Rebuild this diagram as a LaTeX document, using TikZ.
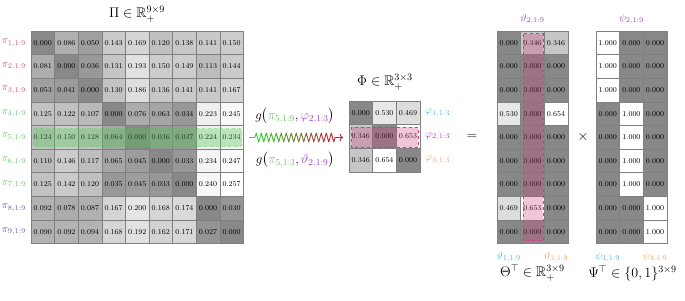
\RequirePackage{fix-cm}
\documentclass[tikz,border=0pt]{standalone}
\usepackage{amsmath,amssymb}
\usepackage{xcolor}
\usepackage{tikz}
\usetikzlibrary{arrows.meta,calc}
\definecolor{matred}{HTML}{E0506A}
\definecolor{matgreen}{HTML}{66C266}
\definecolor{matblue}{HTML}{5060C8}
\definecolor{rowcyan}{HTML}{40B8E8}
\definecolor{rowpurple}{HTML}{A040D0}
\definecolor{roworange}{HTML}{F0A060}
\definecolor{hlgreen}{HTML}{50C850}
\definecolor{hlpink}{HTML}{D04080}
\definecolor{zzgreen}{HTML}{22DD22}
\definecolor{zzred}{HTML}{C82040}

\tikzset{
  cell/.style={draw=black!50,line width=0.4pt,minimum size=23.6pt,inner sep=0pt,
    font=\fontsize{7.5}{8}\selectfont},
  lab/.style={inner sep=0pt,font=\fontsize{10.5}{12}\selectfont},
  title/.style={inner sep=0pt,font=\fontsize{14}{16}\selectfont},
  glab/.style={inner sep=0pt,font=\fontsize{13}{15}\selectfont},
  zigline/.style={line width=0.9pt,line join=round}
}

% name, left, top, largest value, rows
\newcommand{\cellgrid}[5]{%
  \foreach \row [count=\r] in {#5} {
    \foreach \v [count=\c] in \row {
      \pgfmathsetmacro\shade{46.7*(1-\v/#4)}
      \node[cell,fill=black!\shade] (#1-\r-\c) at ({#2+23.6*(\c-0.5)},{#3+23.6*(\r-0.5)}) {\v};
    }
  }%
}

\begin{document}
\begin{tikzpicture}[x=1pt,y=-1pt]
  \useasboundingbox (0,0) rectangle (685,300);

  % Pi
  \cellgrid{pi}{31}{31}{0.257}{
    {0.000,0.086,0.050,0.143,0.169,0.120,0.138,0.141,0.150},
    {0.081,0.000,0.036,0.131,0.193,0.150,0.149,0.113,0.144},
    {0.053,0.041,0.000,0.130,0.186,0.136,0.141,0.141,0.167},
    {0.125,0.122,0.107,0.000,0.076,0.063,0.034,0.223,0.245},
    {0.124,0.150,0.128,0.064,0.000,0.036,0.037,0.224,0.234},
    {0.110,0.146,0.117,0.065,0.045,0.000,0.033,0.234,0.247},
    {0.125,0.142,0.120,0.035,0.045,0.033,0.000,0.240,0.257},
    {0.092,0.078,0.087,0.167,0.200,0.168,0.174,0.000,0.030},
    {0.090,0.092,0.094,0.168,0.192,0.162,0.171,0.027,0.000}}
  \node[title] (pititle) at (137,14) {$\Pi\in\mathbb{R}_+^{9\times 9}$};
  \foreach \r/\col in {1/matred,2/matred,3/matred,4/matgreen,5/matgreen,6/matgreen,7/matgreen,8/matblue,9/matblue}
    \node[lab,anchor=east,text=\col] (pilab-\r) at (26,{31+23.6*(\r-0.5)}) {$\pi_{\r,1:9}$};
  \fill[hlgreen,fill opacity=0.35,rounded corners=2pt] (33,128.5) rectangle (241.5,146.5);
  \draw[hlgreen,dashed,rounded corners=2pt] (33,128.5) rectangle (241.5,146.5);

  % zigzag
  \coordinate (zzs) at (249,137.5);
  \coordinate (zze) at (343,137.5);
  \draw[zigline,zzgreen] (zzs) -- ++(6,0);
  \foreach \i in {0,...,15} {
    \pgfmathsetmacro\mix{100-\i*100/15}
    \draw[zigline,zzgreen!\mix!zzred] ($(zzs)+(6+5*\i,0)$) -- ++(1.25,-4.5) -- ++(2.5,9) -- ++(1.25,-4.5);
  }
  \draw[zigline,zzred,-{To[length=3.5pt,width=8pt]}] ($(zzs)+(86,0)$) -- (zze);
  \node[glab] (gtop) at (295,116) {$g\bigl(\textcolor{matgreen}{\pi_{5,1:9}},\textcolor{rowpurple}{\varphi_{2,1:3}}\bigr)$};
  \node[glab] (gbot) at (295,160) {$g\bigl(\textcolor{matgreen}{\pi_{5,1:3}},\textcolor{rowpurple}{\vartheta_{2,1:9}}\bigr)$};

  % Phi
  \cellgrid{phi}{349}{101}{0.654}{
    {0.000,0.530,0.469},
    {0.346,0.000,0.653},
    {0.346,0.654,0.000}}
  \node[title] (phititle) at (385,82) {$\Phi\in\mathbb{R}_+^{3\times 3}$};
  \node[lab,anchor=west,text=rowcyan] (philab-1) at (425,112.8) {$\varphi_{1,1:3}$};
  \node[lab,anchor=west,text=rowpurple] (philab-2) at (425,136.4) {$\varphi_{2,1:3}$};
  \node[lab,anchor=west,text=roworange] (philab-3) at (425,160) {$\varphi_{3,1:3}$};
  \fill[hlpink,fill opacity=0.3] (351.5,127) rectangle (418,147.5);
  \draw[hlpink,dashed] (351.5,127) rectangle (418,147.5);

  \node[title] (eq) at (472,137) {$=$};

  % Theta transposed
  \cellgrid{theta}{497}{31}{0.654}{
    {0.000,0.346,0.346},
    {0.000,0.000,0.000},
    {0.000,0.000,0.000},
    {0.530,0.000,0.654},
    {0.000,0.000,0.000},
    {0.000,0.000,0.000},
    {0.000,0.000,0.000},
    {0.469,0.653,0.000},
    {0.000,0.000,0.000}}
  \fill[hlpink,fill opacity=0.3] (523,33.5) rectangle (543,240.5);
  \draw[hlpink,dashed] (523,33.5) rectangle (543,240.5);
  \node[lab,text=rowpurple] (thlab-2) at (532.4,19) {$\vartheta_{2,1:9}$};
  \node[lab,text=rowcyan] (thlab-1) at (508.8,257) {$\vartheta_{1,1:9}$};
  \node[lab,text=roworange] (thlab-3) at (556,257) {$\vartheta_{3,1:9}$};
  \node[title] (thtitle) at (532.4,273) {$\Theta^{\top}\in\mathbb{R}_+^{3\times 9}$};

  \node[title] (times) at (583,137) {$\times$};

  % Psi transposed
  \cellgrid{psi}{596}{31}{1}{
    {1.000,0.000,0.000},
    {1.000,0.000,0.000},
    {1.000,0.000,0.000},
    {0.000,1.000,0.000},
    {0.000,1.000,0.000},
    {0.000,1.000,0.000},
    {0.000,1.000,0.000},
    {0.000,0.000,1.000},
    {0.000,0.000,1.000}}
  \node[lab,text=rowpurple] (pslab-2) at (631.4,19) {$\psi_{2,1:9}$};
  \node[lab,text=rowcyan] (pslab-1) at (607.8,257) {$\psi_{1,1:9}$};
  \node[lab,text=roworange] (pslab-3) at (655,257) {$\psi_{3,1:9}$};
  \node[title] (pstitle) at (632.5,273) {$\Psi^{\top}\in\{0,1\}^{3\times 9}$};
\end{tikzpicture}
\end{document}
